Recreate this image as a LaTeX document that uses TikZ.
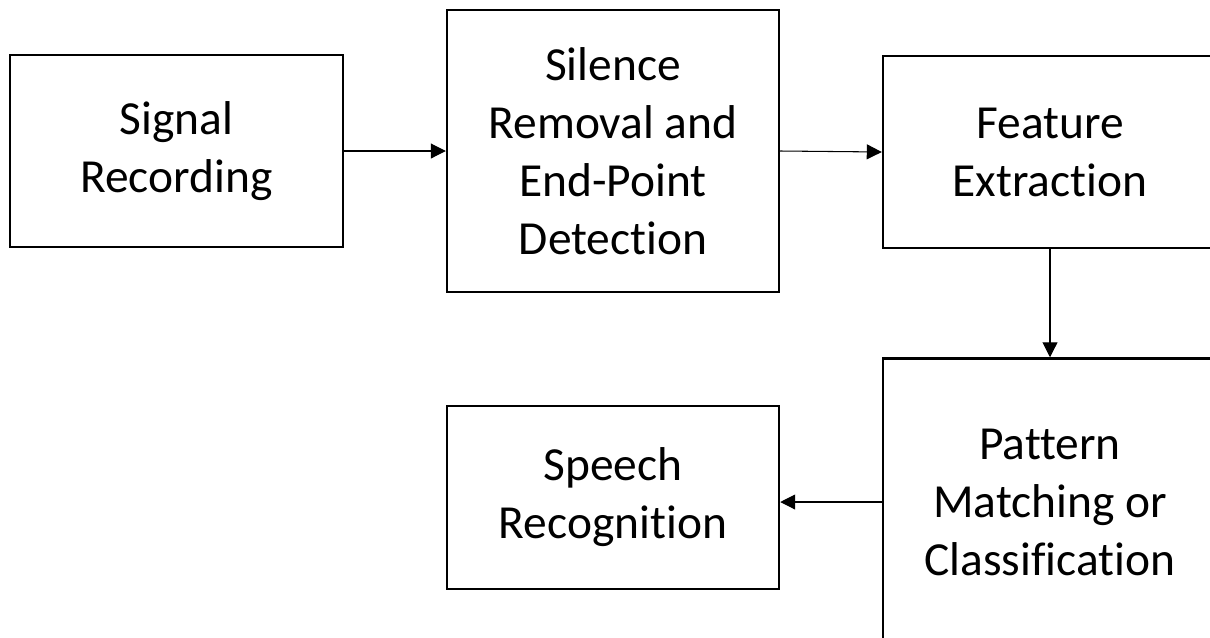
\documentclass[tikz,border=0pt]{standalone}
\usepackage{fontspec}
\setmainfont{Carlito}[RawFeature=-liga]
\usetikzlibrary{arrows.meta}
\tikzset{
  blk/.style={draw, line width=1.4pt, inner sep=0pt, align=center,
    font=\fontsize{27}{33}\selectfont},
  flow/.style={line width=0.6pt, -{Triangle[length=3mm,width=3mm]}}
}
\begin{document}
\begin{tikzpicture}[x=0.2mm,y=0.2mm]
\clip (0,0) rectangle (1210,-637);
\node[blk, minimum width=66.6mm, minimum height=38.4mm] (sigrec) at (176.5,-151){Signal\\Recording};
\node[blk, minimum width=66.4mm, minimum height=56.4mm] (silrem) at (613,-151){Silence\\Removal and\\End-Point\\Detection};
\node[blk, minimum width=66.8mm, minimum height=38.4mm] (featx) at (1050,-152){Feature\\Extraction};
\node[blk, minimum width=66.8mm, minimum height=57.4mm] (patm) at (1050,-502){Pattern\\Matching or\\Classification};
\node[blk, minimum width=66.4mm, minimum height=36.6mm] (speech) at (613,-497.5){Speech\\Recognition};
\draw[flow](sigrec) -- (silrem);
\draw[flow](silrem.east) -- (featx.west);
\draw[flow](featx) -- (patm);
\draw[flow](patm.west) -- (patm.west -| speech.east);
\end{tikzpicture}
\end{document}
